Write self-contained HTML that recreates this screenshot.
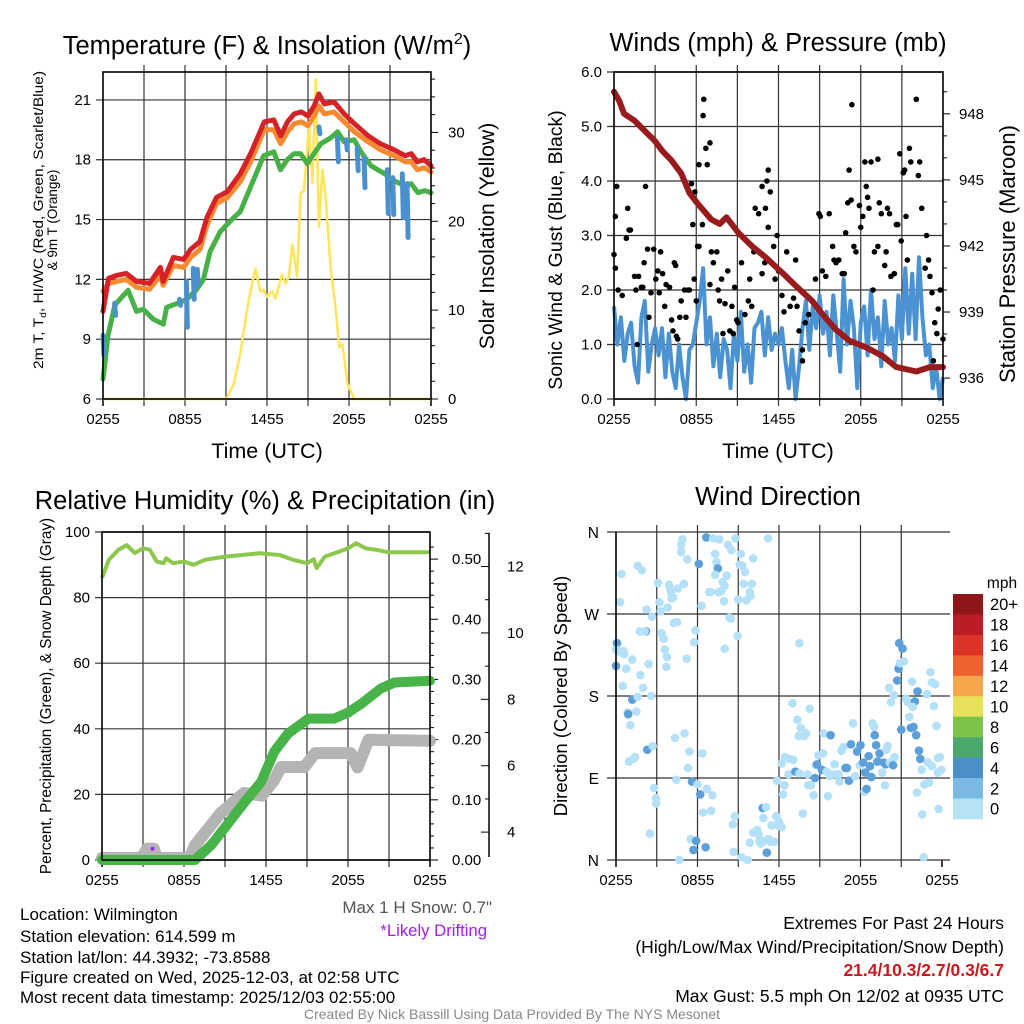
<!DOCTYPE html>
<html><head><meta charset="utf-8">
<style>
html,body{margin:0;padding:0;background:#fff;}
svg{display:block;font-family:"Liberation Sans",Arial,sans-serif;}
</style></head>
<body>
<svg id="fig" width="1024" height="1024" viewBox="0 0 1024 1024" xmlns="http://www.w3.org/2000/svg">
<rect x="0" y="0" width="1024" height="1024" fill="#fff"/>
<g id="layer"></g>
<text x="267" y="54" font-size="25.5" text-anchor="middle">Temperature (F) &amp; Insolation (W/m<tspan font-size="16" dy="-10">2</tspan><tspan dy="10">)</tspan></text>
<text x="778" y="51" font-size="25.5" text-anchor="middle">Winds (mph) &amp; Pressure (mb)</text>
<text x="265" y="509" font-size="25.5" text-anchor="middle">Relative Humidity (%) &amp; Precipitation (in)</text>
<text x="778" y="505" font-size="25.5" text-anchor="middle">Wind Direction</text>
<text x="267" y="458" font-size="21.5" text-anchor="middle">Time (UTC)</text>
<text x="778" y="458" font-size="21.5" text-anchor="middle">Time (UTC)</text>
<text transform="translate(43,220) rotate(-90)" font-size="13.5" text-anchor="middle" textLength="298" lengthAdjust="spacingAndGlyphs">2m T, T<tspan font-size="9" dy="3">d</tspan><tspan dy="-3">, HI/WC (Red, Green, Scarlet/Blue)</tspan></text>
<text transform="translate(57,220) rotate(-90)" font-size="13.5" text-anchor="middle">&amp; 9m T (Orange)</text>
<text transform="translate(494,236) rotate(-90)" font-size="21.2" text-anchor="middle">Solar Insolation (Yellow)</text>
<text transform="translate(562,250) rotate(-90)" font-size="19.5" text-anchor="middle">Sonic Wind &amp; Gust (Blue, Black)</text>
<text transform="translate(1015,254) rotate(-90)" font-size="22" text-anchor="middle">Station Pressure (Maroon)</text>
<text transform="translate(51,696) rotate(-90)" font-size="15.3" text-anchor="middle">Percent, Precipitation (Green), &amp; Snow Depth (Gray)</text>
<text transform="translate(567,696) rotate(-90)" font-size="18.5" text-anchor="middle">Direction (Colored By Speed)</text>
<text x="1002" y="588" font-size="15.5" text-anchor="middle">mph</text>
<g font-size="17">
<text x="20" y="920">Location: Wilmington</text>
<text x="20" y="942">Station elevation: 614.599 m</text>
<text x="20" y="963">Station lat/lon: 44.3932; -73.8588</text>
<text x="20" y="983">Figure created on Wed, 2025-12-03, at 02:58 UTC</text>
<text x="20" y="1003">Most recent data timestamp: 2025/12/03 02:55:00</text>
</g>
<text x="492" y="913" font-size="17" fill="#555" text-anchor="end">Max 1 H Snow: 0.7"</text>
<text x="487" y="936" font-size="16.7" fill="#a020f0" text-anchor="end">*Likely Drifting</text>
<g font-size="17.5" text-anchor="end">
<text x="1004" y="929">Extremes For Past 24 Hours</text>
<text x="1004" y="953">(High/Low/Max Wind/Precipitation/Snow Depth)</text>
<text x="1004" y="976" font-weight="bold" fill="#c8191f">21.4/10.3/2.7/0.3/6.7</text>
<text x="1004" y="1002">Max Gust: 5.5 mph On 12/02 at 0935 UTC</text>
</g>
<text x="512" y="1019" font-size="14" fill="#888" text-anchor="middle">Created By Nick Bassill Using Data Provided By The NYS Mesonet</text>
</svg>
<script>
// ---------- data ----------
const X_TICK_LABELS = ["0255","0855","1455","2055","0255"];
const T_HOURS = [0,0.4,1,1.7,2.45,3.4,4.2,4.4,5.15,5.9,6.4,7.1,7.6,8.3,9.1,10.05,10.8,11.8,12.5,13,13.5,14,14.5,15,15.45,15.8,16.2,16.9,17.65,18.4,19.4,20.3,21.3,22.1,22.55,23.0,23.5,24];
const T_RED = [10.4,12.05,12.2,12.3,11.9,11.8,12.6,11.9,13.1,13.0,13.5,13.9,15.1,16.1,16.4,17.3,18.3,19.9,20.0,19.2,19.9,20.3,20.4,20.2,20.7,21.3,20.8,20.9,20.3,19.8,19.2,18.8,18.5,18.2,18.3,17.9,18.0,17.7];
const T_ORANGE = [11.4,11.8,11.9,12.0,11.6,11.5,12.2,11.7,12.7,12.6,13.1,13.5,14.7,15.8,16.1,16.9,17.9,19.5,19.5,18.8,19.4,19.8,19.9,19.7,20.2,20.7,20.3,20.4,19.9,19.4,18.9,18.5,18.2,17.9,17.9,17.5,17.6,17.4];
const TD_HOURS = [0,0.37,0.86,1.23,1.84,2.45,2.94,3.68,4.41,4.66,5.64,6.13,6.86,7.35,7.84,8.58,9.56,10.05,10.78,11.76,12.5,12.99,13.48,13.97,14.46,14.95,15.44,15.93,16.67,17.16,17.65,18.38,18.87,19.6,20.6,21.3,22.06,22.55,23.04,23.53,24];
const T_GREEN = [7.0,9.2,10.7,11.0,11.45,10.4,10.5,10.0,9.75,10.6,10.85,11.0,11.5,12.0,13.4,14.4,15.1,15.4,16.6,18.2,18.4,17.5,18.0,18.3,18.3,17.8,18.3,18.8,19.1,19.4,18.9,19.0,18.4,17.7,17.3,16.95,16.7,16.8,16.35,16.45,16.35];
const HI_HOURS = [0,0.85,5.6,6.1,6.6,6.9,15.8,17.15,17.8,18.6,19.1,20.8,21.2,21.9,22.25];
const HI_TOP = [9.2,10.8,11.0,11.9,12.55,12.5,19.65,19.1,19.0,18.6,18.1,17.5,17.1,17.3,16.8];
const HI_BOTTOM = [8.2,10.2,10.7,9.6,11.0,11.7,19.3,17.9,18.5,17.45,16.6,15.3,15.25,15.1,14.1];
const INS_HOURS = [0,9.02,9.56,10.05,10.54,10.9,11.15,11.5,11.76,12.0,12.38,12.62,13.1,13.36,13.6,13.85,14.2,14.46,14.7,15.07,15.32,15.56,15.8,16.05,16.3,16.67,17.03,17.28,17.52,17.9,18.38,24];
const INSOLATION = [0,0,1.7,5.1,10,13,14.7,12.1,12.3,11.5,12.1,11.3,14,13,13.8,17.4,13.8,23.2,23.4,30.8,24.3,36,19.4,25.8,22.5,14.5,10.2,5.8,6.2,1.7,0,0];
const TEMP_TICKS = [6,9,12,15,18,21];
const INS_TICKS = [0,10,20,30];

const P_HOURS = [0,0.37,0.74,1.47,2.45,2.94,3.55,4.17,4.9,5.51,6.13,7.1,7.72,8.21,9.07,10.05,11.03,12.25,13.24,14.46,15.2,16.18,17.16,18.38,19.6,20.59,22.06,23.04,24];
const PRESSURE = [949.0,948.6,948.0,947.7,947.1,946.8,946.3,945.9,945.3,944.4,943.9,943.2,943.0,943.3,942.6,942.0,941.5,940.8,940.2,939.5,938.9,938.2,937.7,937.4,937.0,936.5,936.3,936.5,936.5];
const WIND_STEP_HOURS = 0.25;
const WIND_SPEED = [1.7,1.0,1.5,0.7,1.2,1.4,0.6,0.3,1.5,1.8,0.5,1.0,1.3,
0.8,1.3,0.4,1.2,0.5,0.2,1.0,0.4,0.0,0.9,1.0,1.4,
1.8,2.4,1.0,1.5,0.6,1.2,0.4,1.1,0.9,0.2,1.2,0.7,
1.6,0.5,1.0,0.3,1.3,1.4,1.6,0.8,1.5,0.9,1.2,1.0,
1.3,0.7,0.2,0.9,0.0,0.6,1.3,1.8,0.9,1.7,1.3,1.9,
1.2,1.6,0.8,1.9,1.2,0.5,2.2,1.0,1.8,1.3,0.2,1.4,
1.7,0.8,2.0,1.1,1.5,0.6,1.8,1.0,1.3,0.7,1.9,1.1,
2.4,1.2,2.3,1.1,2.6,1.5,0.8,1.0,0.2,0.6,0.0,0.4];
const GUST_HOURS = [0,0.1,0.1,0.2,0.3,0.6,1.0,0.9,1.1,1.2,1.5,1.6,1.7,1.8,2.0,2.1,2.2,2.3,2.45,2.55,2.7,2.9,3.05,3.2,3.3,3.4,3.55,3.7,3.8,4.05,4.2,4.3,4.4,4.5,4.55,4.65,4.8,4.9,5.15,5.25,5.4,5.5,5.65,5.75,5.85,5.9,6.0,6.1,6.2,6.45,6.2,6.5,6.55,6.7,6.8,7.0,7.0,7.1,7.25,7.5,7.6,7.7,7.85,7.95,8.1,8.3,8.45,8.6,8.7,8.8,8.95,9.05,9.3,9.55,9.8,9.9,10.05,10.2,10.3,10.55,10.8,11.05,11.15,11.25,11.4,11.25,11.0,10.8,11.65,11.9,11.75,12.0,12.25,12.4,12.6,12.85,13.1,13.25,13.35,13.5,13.75,13.75,13.95,14.2,14.45,14.7,14.95,15.05,15.2,15.45,15.7,15.95,16.05,16.2,16.4,16.65,16.8,16.9,17.05,17.15,17.3,17.35,17.5,17.65,17.9,18.0,18.15,18.3,18.4,18.5,18.6,18.75,18.9,19.0,19.25,19.25,19.35,19.5,19.75,19.85,19.95,20.1,20.2,20.45,20.6,20.7,20.85,20.95,21.1,21.2,21.3,21.4,21.55,21.65,22.05,22.2,22.3,22.45,22.7,22.8,22.95,23.05,23.2,23.4,23.55,23.65,23.8,24.0,23.3];
const GUST_SPEED = [2.65,2.4,3.35,3.9,2.0,1.9,3.5,2.95,3.1,3.1,2.25,2.0,1.0,2.25,2.05,2.05,2.5,3.9,2.75,1.5,1.95,2.75,2.2,2.35,1.95,2.7,2.3,1.7,2.1,2.05,1.45,1.25,2.5,2.45,1.15,1.1,1.5,1.8,2.0,1.5,2.0,2.0,3.95,3.2,2.2,3.8,1.8,2.8,2.8,3.2,4.3,5.2,5.5,4.6,4.3,4.7,2.1,2.7,2.5,2.7,2.0,1.8,2.2,1.2,1.75,2.35,1.25,1.7,1.2,2.05,1.45,1.4,2.5,1.55,1.8,2.2,1.7,2.7,3.5,3.4,3.9,3.5,4.0,4.2,3.8,3.15,2.5,2.3,2.8,3.0,2.2,2.35,1.9,1.6,2.7,1.7,1.85,2.55,1.7,1.25,0.9,0.7,1.4,1.55,1.8,2.2,3.4,3.35,2.35,2.25,3.4,2.8,2.55,2.5,2.55,2.3,2.3,3.05,3.6,4.2,3.65,5.4,2.8,2.7,3.55,3.15,3.35,4.35,3.9,3.7,3.5,4.35,2.0,2.7,4.4,2.8,3.6,3.4,2.45,2.7,3.5,3.4,2.25,2.3,3.2,3.2,4.5,2.9,4.15,4.2,3.35,2.55,4.6,4.35,5.5,4.1,4.35,3.5,2.4,3.0,2.55,2.25,1.95,1.4,1.2,1.65,2.0,1.1,0.7];
const WIND_TICKS = [0,1,2,3,4,5,6];
const P_TICKS = [936,939,942,945,948];

const RH_HOURS = [0,0.5,1.2,1.8,2.4,3.0,3.5,4.0,4.5,4.7,5.2,6.0,6.7,7.5,9,11.5,13,14,14.5,15,15.5,15.7,16.3,17,18,18.6,19.3,20,21,24];
const RH = [86,91.5,94.6,96,93.6,95,94.6,91,90.5,92,90.5,91,90,91.5,92.5,93.5,93,91.5,91,90.5,91.7,89,92.5,93.5,95,96.6,95,94.6,93.8,93.8];
const PRECIP_HOURS = [0,6.8,8,9.2,10.4,11.65,12.6,13.6,15.1,17,18,19,20.4,21.4,24];
const PRECIP = [0,0,0.025,0.06,0.095,0.13,0.18,0.21,0.235,0.235,0.245,0.26,0.285,0.295,0.298];
const SNOW_HOURS = [0,2.9,3.3,3.8,4.0,6.4,6.8,8.7,10.4,11.7,12.6,13.1,14.8,15.6,18.2,18.7,19.5,24];
const SNOW_DEPTH = [3.22,3.22,3.5,3.5,3.22,3.22,3.6,4.58,5.18,5.1,5.57,5.96,5.96,6.38,6.38,5.95,6.78,6.75];
const DRIFT_HOUR = [3.7];
const DRIFT_DEPTH = [3.5];
const RH_TICKS = [0,20,40,60,80,100];
const PRECIP_TICKS = [0,0.1,0.2,0.3,0.4,0.5];
const PRECIP_TICK_LABELS = ["0.00","0.10","0.20","0.30","0.40","0.50"];
const SNOW_TICKS = [4,6,8,10,12];

const DIR_HOURS = [0.07,0,0.2,0.55,0.6,0,0.3,0.4,0.75,0.5,1.2,1.6,1.9,1.8,2.0,1.2,1.6,0.85,0.9,1.05,1.5,2.6,2.4,2.2,2.1,1.75,2.25,2.65,3.1,3.2,3.3,3.8,3.9,4.0,4.1,4.05,4.2,4.55,5.0,4.8,4.9,4.8,5.25,4.25,4.5,3.35,3.5,3.6,3.75,3.7,5.2,5.75,5.85,6.3,6.1,6.65,7.15,7.6,8.25,8.5,8.8,7.3,7.4,7.5,7.3,8.15,7.85,8.0,7.75,7.55,6.95,6.85,7.95,8.35,8.45,8.0,8.95,9.0,9.2,9.3,9.1,9.5,9.4,10.0,9.85,9.9,9.6,10.1,11.2,
1.3,1.4,0.95,2.3,2.7,4.35,5.05,5.4,6.35,5.3,2.8,2.95,2.95,2.5,4.45,5.6,6.0,6.2,6.7,7.1,6.4,7.0,8.75,8.6,8.65,5.5,5.9,5.7,6.6,4.65,9.25,9.7,9.85,10.1,10.4,10.5,10.8,11.05,10.85,10.55,10.65,10.9,11.1,11.25,11.4,11.65,11.45,11.8,12.0,11.9,12.1,12.2,
11.85,12.4,12.3,12.2,12.45,12.75,13.05,12.7,13.2,13.5,13.0,13.35,13.6,13.45,13.85,14.0,14.25,13.5,13.75,14.1,14.15,14.35,14.55,14.65,14.7,14.8,14.9,15.15,15.25,15.3,15.6,15.5,15.75,15.8,15.9,16.1,16.25,16.45,16.4,16.6,16.75,16.9,17.0,17.15,17.3,17.45,17.6,17.75,17.95,18.0,18.2,18.3,18.45,18.35,18.6,18.7,18.8,18.9,19.0,19.05,19.15,19.25,19.4,19.6,19.7,19.8,19.85,19.9,20.0,20.15,20.4,20.5,20.1,20.25,20.45,20.7,20.8,20.9,20.85,21.1,21.2,21.0,21.35,21.5,21.6,21.8,22.0,22.2,21.7,21.9,22.1,22.3,22.4,22.5,22.95,23.25,23.7,23.85,23.95,23.7,22.7,23.05,22.15,22.55,23.75,22.65,22.9,23.15,23.25,23.5,23.4,23.6,21.85];
const DIR_DEG = [238,231,229,229,226,213,283,314,210,191,220,323,318,203,189,176,179,162,160,148,163,180,215,251,251,251,275,267,304,283,273,277,302,297,287,294,288,298,303,346,352,338,330,260,261,249,243,231,223,212,221,239,252,279,325,354,353,352,346,340,353,336,327,320,313,312,305,301,295,294,294,294,284,266,265,232,246,286,336,323,324,316,303,303,294,290,285,331,353,
111,113,108,121,125,134,139,119,117,101,79,68,62,29,88,86,83,72,78,71,52,54,48,39,9,23,21,11,14,0,3,0,19,30,33,28,57,58,46,21,18,21,8,23,20,20,38,48,42,38,37,36,
87,82,72,106,113,111,110,94,97,95,172,154,145,136,136,139,166,238,51,94,82,82,71,90,104,105,115,99,117,139,70,97,92,137,94,105,94,86,94,120,124,101,101,87,127,150,92,119,104,126,107,75,78,96,114,103,91,150,146,137,126,108,117,96,107,82,105,121,125,107,104,113,189,173,181,197,210,216,238,232,218,143,177,173,157,196,174,185,145,146,137,120,111,99,107,103,112,113,99,96,83,85,74,50,56,3,182,206,195,193,169,147,168];
const DIR_SPEED = [3,1,1,1,1,3,1,1,1,1,1,1,1,1,1,3,1,1,3,1,1,1,1,3,1,1,1,1,1,1,1,1,1,1,1,1,1,1,1,1,1,1,1,1,1,1,1,1,1,1,1,1,1,1,3,3,1,1,1,1,1,1,1,3,1,1,1,1,1,1,1,1,1,1,1,1,1,1,1,1,1,1,1,1,1,1,1,1,1,
1,1,1,3,1,1,1,1,1,1,1,1,1,1,1,3,1,3,1,1,1,1,1,1,1,1,3,3,3,1,1,1,1,1,1,1,3,1,1,1,1,1,3,1,1,1,1,1,1,1,1,1,
1,1,1,1,1,1,1,1,3,1,1,1,1,1,1,1,1,1,1,1,1,1,1,3,1,3,1,3,1,1,1,1,1,3,1,1,1,1,1,1,1,3,3,3,3,1,1,3,1,3,3,1,3,3,3,3,3,1,1,3,3,3,3,1,3,1,3,1,1,1,3,1,1,1,1,3,3,1,3,3,1,3,1,1,1,1,3,3,3,3,3,3,3,1,1,1,1,1,1,1,1,1,1,1,1,1,1,1,1,1,1,1,1];
const DIR_TICKS = [0,90,180,270,360];
const DIR_TICK_LABELS = ["N","E","S","W","N"];
const CBAR_LABELS = ["20+","18","16","14","12","10","8","6","4","2","0"];
const CBAR_COLORS = ["#8e1518","#bb1d25","#db3328","#ee6130","#f6a74c","#e7e05b","#7dc24b","#4aa86c","#4a8fc8","#7ab9e4","#b6e2f8"];

// ---------- helpers ----------
const NS = "http://www.w3.org/2000/svg";
const layer = document.getElementById("layer");
function el(tag, attrs, name, parent) {
  const e = document.createElementNS(NS, tag);
  for (const k in attrs) e.setAttribute(k, attrs[k]);
  
  
  (parent || layer).appendChild(e);
  return e;
}
function lin(d0, d1, r0, r1) { return v => r0 + (v - d0) * (r1 - r0) / (d1 - d0); }
function pathFrom(xs, ys, fx, fy) {
  return xs.map((h, i) => (i ? "L" : "M") + fx(h).toFixed(1) + "," + fy(ys[i]).toFixed(1)).join("");
}
function txt(x, y, s, size, anchor, name, fill) {
  const t = el("text", {x: x, y: y, "font-size": size, "text-anchor": anchor, fill: fill || "#000"}, name);
  t.textContent = s;
  return t;
}
function frame(p, name) {
  for (let h = 3; h < 24; h += 3) {
    el("line", {x1: p.fx(h), x2: p.fx(h), y1: p.y0 - 7, y2: p.y1 + 7, stroke: "#333", "stroke-width": 1.2}, name + "-vgrid");
  }
  [0, 24].forEach(h => el("line", {x1: p.fx(h), x2: p.fx(h), y1: p.y1, y2: p.y1 + 7, stroke: "#000", "stroke-width": 1.5}, name + "-xtick"));
  X_TICK_LABELS.forEach((s, i) => txt(p.fx(i * 6), p.y1 + 25, s, 15, "middle", name + "-x-tick-label"));
}
function border(p, name) {
  el("rect", {x: p.x0, y: p.y0, width: p.x1 - p.x0, height: p.y1 - p.y0, fill: "none", stroke: "#000", "stroke-width": 1.6}, name + "-frame");
}

// ---------- panel 1: temperature ----------
{
  const p = {x0: 103, x1: 431, y0: 72, y1: 399};
  p.fx = lin(0, 24, p.x0, p.x1);
  const fy = lin(6, 22.4, p.y1, p.y0);
  const fi = lin(0, 36.8, p.y1, p.y0);
  frame(p, "temp");
  TEMP_TICKS.forEach(v => {
    el("line", {x1: p.x0 - 7, x2: p.x1, y1: fy(v), y2: fy(v), stroke: "#333", "stroke-width": 1.2}, "temp-hgrid");
    txt(p.x0 - 12, fy(v) + 5, String(v), 15, "end", "temp-y-tick-label");
  });
  for (let v = 0; v <= 36; v += 2) {
    el("line", {x1: p.x1, x2: p.x1 + (v % 10 === 0 ? 7 : 4), y1: fi(v), y2: fi(v), stroke: "#000", "stroke-width": 1}, "insolation-tick");
  }
  INS_TICKS.forEach(v => txt(p.x1 + 17, fi(v) + 5, String(v), 15, "start", "insolation-tick-label"));
  el("path", {d: pathFrom(INS_HOURS, INSOLATION, p.fx, fi), fill: "none", stroke: "#ffe55a", "stroke-width": 2.5, "stroke-linejoin": "round"}, "insolation-line");
  el("path", {d: pathFrom(TD_HOURS, T_GREEN, p.fx, fy), fill: "none", stroke: "#47b148", "stroke-width": 5, "stroke-linejoin": "round", "stroke-linecap": "round"}, "dewpoint-line");
  HI_HOURS.forEach((h, i) => {
    el("line", {x1: p.fx(h), x2: p.fx(h) + 1, y1: fy(HI_TOP[i]), y2: fy(HI_BOTTOM[i]), stroke: "#4a90cf", "stroke-width": 5, "stroke-linecap": "round"}, "heat-index-segment");
  });
  el("path", {d: pathFrom(T_HOURS, T_ORANGE, p.fx, fy), fill: "none", stroke: "#f58a30", "stroke-width": 5, "stroke-linejoin": "round", "stroke-linecap": "round"}, "temp-9m-line");
  el("path", {d: pathFrom(T_HOURS, T_RED, p.fx, fy), fill: "none", stroke: "#d52227", "stroke-width": 5, "stroke-linejoin": "round", "stroke-linecap": "round"}, "temp-2m-line");
  border(p, "temp");
}

// ---------- panel 2: winds ----------
{
  const p = {x0: 614, x1: 943, y0: 72, y1: 399};
  p.fx = lin(0, 24, p.x0, p.x1);
  const fy = lin(0, 6, p.y1, p.y0);
  const fp = lin(935.05, 949.9, p.y1, p.y0);
  frame(p, "wind");
  WIND_TICKS.forEach(v => {
    el("line", {x1: p.x0 - 7, x2: p.x1, y1: fy(v), y2: fy(v), stroke: "#333", "stroke-width": 1.2}, "wind-hgrid");
    txt(p.x0 - 12, fy(v) + 5, v.toFixed(1), 15, "end", "wind-y-tick-label");
  });
  for (let v = 936; v <= 949; v += 1) {
    el("line", {x1: p.x1, x2: p.x1 + ((v - 936) % 3 === 0 ? 7 : 4), y1: fp(v), y2: fp(v), stroke: "#000", "stroke-width": 1}, "pressure-tick");
  }
  P_TICKS.forEach(v => txt(p.x1 + 16, fp(v) + 5, String(v), 15, "start", "pressure-tick-label"));
  const wh = WIND_SPEED.map((v, i) => i * WIND_STEP_HOURS);
  el("path", {d: pathFrom(wh, WIND_SPEED, p.fx, fy), fill: "none", stroke: "#4a92d2", "stroke-width": 4, "stroke-linejoin": "round"}, "sonic-wind-line");
  GUST_HOURS.forEach((h, i) => {
    el("circle", {cx: p.fx(h), cy: fy(GUST_SPEED[i]), r: 2.8, fill: "#000"}, "gust-point");
  });
  el("path", {d: pathFrom(P_HOURS, PRESSURE, p.fx, fp), fill: "none", stroke: "#981b1e", "stroke-width": 6, "stroke-linejoin": "round", "stroke-linecap": "round"}, "pressure-line");
  border(p, "wind");
}

// ---------- panel 3: humidity ----------
{
  const p = {x0: 102, x1: 430, y0: 532, y1: 860};
  p.fx = lin(0, 24, p.x0, p.x1);
  const fy = lin(0, 100, p.y1, p.y0);
  const fpr = lin(0, 0.545, p.y1, p.y0);
  const fs = lin(3.16, 13.04, p.y1, p.y0);
  frame(p, "rh");
  RH_TICKS.forEach(v => {
    el("line", {x1: p.x0 - 7, x2: p.x1, y1: fy(v), y2: fy(v), stroke: "#333", "stroke-width": 1.2}, "rh-hgrid");
    txt(p.x0 - 12, fy(v) + 5, String(v), 15, "end", "rh-y-tick-label");
  });
  for (let v = 0; v <= 0.54; v += 0.02) {
    const major = Math.abs(v * 10 - Math.round(v * 10)) < 0.01;
    el("line", {x1: p.x1, x2: p.x1 + (major ? 8 : 4), y1: fpr(v), y2: fpr(v), stroke: "#000", "stroke-width": 1}, "precip-tick");
  }
  PRECIP_TICKS.forEach((v, i) => txt(p.x1 + 22, fpr(v) + 5, PRECIP_TICK_LABELS[i], 15, "start", "precip-tick-label"));
  el("line", {x1: 489, x2: 489, y1: 533, y2: 857, stroke: "#000", "stroke-width": 1.5}, "snow-axis-line");
  for (let v = 4; v <= 13; v += 1) {
    el("line", {x1: 489, x2: v % 2 === 0 ? 481 : 485, y1: fs(v), y2: fs(v), stroke: "#000", "stroke-width": 1}, "snow-tick");
  }
  SNOW_TICKS.forEach(v => txt(507, fs(v) + 5, String(v), 15, "start", "snow-tick-label"));
  el("path", {d: pathFrom(RH_HOURS, RH, p.fx, fy), fill: "none", stroke: "#8dc84c", "stroke-width": 4, "stroke-linejoin": "round"}, "rh-line");
  el("path", {d: pathFrom(SNOW_HOURS, SNOW_DEPTH, p.fx, fs), fill: "none", stroke: "#b4b4b4", "stroke-width": 12, "stroke-linejoin": "round", "stroke-linecap": "round"}, "snow-depth-line");
  el("path", {d: pathFrom(PRECIP_HOURS, PRECIP, p.fx, fpr), fill: "none", stroke: "#47b348", "stroke-width": 10, "stroke-linejoin": "round", "stroke-linecap": "round"}, "precip-line");
  DRIFT_HOUR.forEach((h, i) => el("circle", {cx: p.fx(h), cy: fs(DRIFT_DEPTH[i]), r: 2, fill: "#a020f0"}, "drifting-marker"));
  border(p, "rh");
}

// ---------- panel 4: wind direction ----------
{
  const p = {x0: 616, x1: 942, y0: 532, y1: 860};
  p.fx = lin(0, 24, p.x0, p.x1);
  const fy = lin(0, 360, p.y1, p.y0);
  frame(p, "dir");
  DIR_TICKS.forEach((v, i) => {
    el("line", {x1: p.x0 - 9, x2: p.x1 + 8, y1: fy(v), y2: fy(v), stroke: "#333", "stroke-width": 1.2}, "dir-hgrid");
    txt(p.x0 - 17, fy(v) + 6, DIR_TICK_LABELS[i], 15.5, "end", "dir-y-tick-label");
  });
  const colorFor = s => s < 2 ? "#b4e0f8" : s < 4 ? "#5d9fd8" : "#4a8fc8";
  DIR_HOURS.forEach((h, i) => {
    el("circle", {cx: p.fx(h), cy: fy(DIR_DEG[i]), r: 4.3, fill: colorFor(DIR_SPEED[i])}, "direction-point");
  });
  el("line", {x1: p.x0, x2: p.x0, y1: p.y0, y2: p.y1, stroke: "#000", "stroke-width": 1.6}, "dir-left-axis");
  const segH = 20.45;
  CBAR_COLORS.forEach((c, i) => {
    el("rect", {x: 953, y: 594 + i * segH, width: 30, height: segH + 0.3, fill: c}, "colorbar-segment");
    txt(990, 594 + i * segH + segH / 2 + 6, CBAR_LABELS[i], 16.5, "start", "colorbar-label");
  });
}
</script>
</body></html>
